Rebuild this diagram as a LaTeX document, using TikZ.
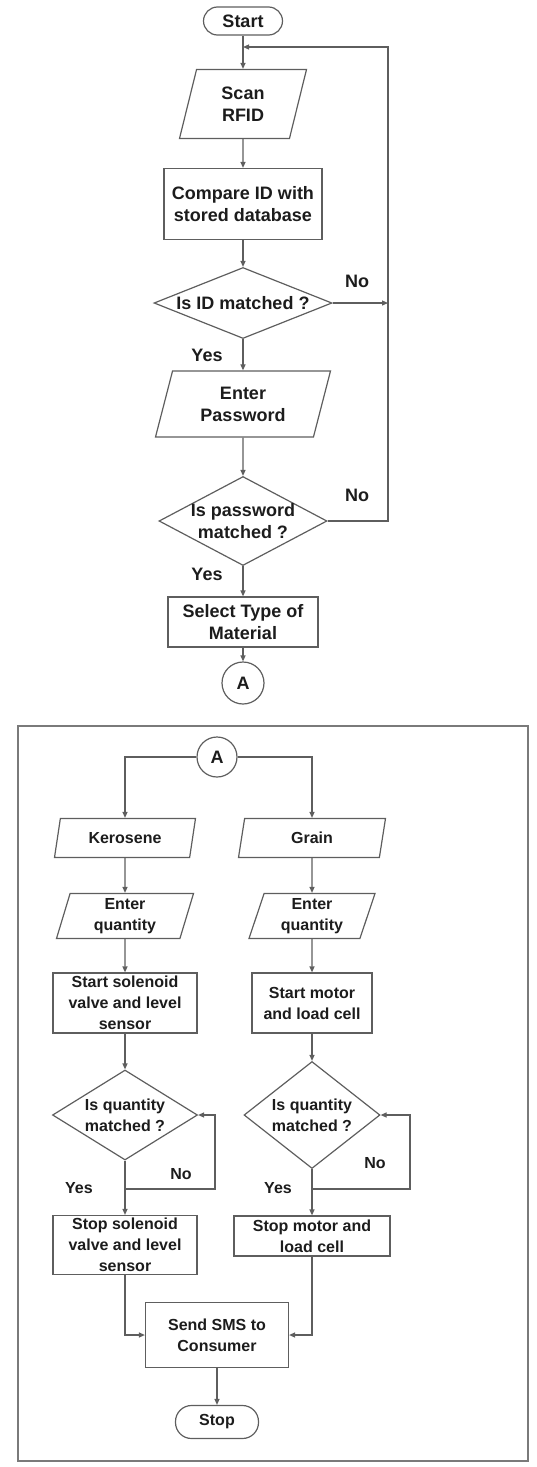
\documentclass[tikz,border=0pt]{standalone}
\usepackage{fontspec}
\setmainfont{Liberation Sans}
\usetikzlibrary{shapes.geometric,arrows.meta}
\definecolor{gris}{HTML}{5E5E5E}
\definecolor{texto}{HTML}{1C1C1C}
\definecolor{marco}{HTML}{7A7A7A}

\begin{document}
\begin{tikzpicture}[
    x=1pt, y=-1pt,
    every node/.style = {text=texto, font=\bfseries\fontsize{18}{22}\selectfont},
    chica/.style  = {font=\bfseries\fontsize{16}{21}\selectfont},
    linea/.style  = {draw=gris, line width=1.2pt},
    flecha/.style = {linea, -{Triangle[length=6pt,width=5pt]}},
    term/.style   = {linea, rectangle, rounded corners=#1, inner sep=1pt},
    caja/.style   = {linea, rectangle, align=center, inner sep=1pt},
    io/.style     = {linea, trapezium, trapezium left angle=66, trapezium right angle=114,
                     trapezium stretches body, align=center, inner sep=1pt},
    deci/.style   = {linea, diamond, inner sep=0pt},
    conn/.style   = {linea, circle, inner sep=0pt},
  ]
  \useasboundingbox (0,0) rectangle (537,1467);

  % Parte superior: identificacion
  \node[term=14pt, minimum width=79pt, minimum height=28pt] (inicio) at (243,21) {Start};
  \coordinate (une) at (243,47);
  \coordinate (der) at (388,47);
  \node[io, trapezium left angle=65, trapezium right angle=115,
        minimum width=127pt, minimum height=69pt] (scan) at (243,104) {Scan\\RFID};
  \node[caja, minimum width=158pt, minimum height=71pt] (comp) at (243,204) {Compare ID with\\stored database};
  \node[deci, minimum width=178pt, minimum height=71pt,
        label={[align=center]center:Is ID matched ?}] (id) at (243,303) {};
  \node[io, trapezium left angle=65, trapezium right angle=115,
        minimum width=175pt, minimum height=66pt] (clave) at (243,404) {Enter\\Password};
  \node[deci, minimum width=168pt, minimum height=89pt,
        label={[align=center]center:Is password\\matched ?}] (pw) at (243,521) {};
  \node[caja, minimum width=150pt, minimum height=50pt] (tipo) at (243,622) {Select Type of\\Material};
  \node[conn, minimum size=42pt] (a1) at (243,683) {A};

  \node (no1) at (357,281) {No};
  \node (si1) at (207,355) {Yes};
  \node (no2) at (357,495) {No};
  \node (si2) at (207,574) {Yes};

  \draw[linea]  (inicio) -- (une);
  \draw[flecha] (une) -- (scan);
  \draw[flecha] (scan) -- (comp);
  \draw[flecha] (comp) -- (id);
  \draw[flecha] (id) -- (clave);
  \draw[flecha] (id.east) -- (id.east -| der);
  \draw[flecha] (clave) -- (pw);
  \draw[flecha] (pw.east) -| (der) -- (une);
  \draw[flecha] (pw) -- (tipo);
  \draw[flecha] (tipo) -- (a1);

  % Parte inferior: despacho
  \draw[draw=marco, line width=2.4pt] (18,726) rectangle (528,1461);
  \node[conn, minimum size=40pt] (a2) at (217,757) {A};
  \node[io, chica, minimum width=141pt, minimum height=39pt] (kero) at (125,838) {Kerosene};
  \node[io, chica, minimum width=147pt, minimum height=39pt] (grano) at (312,838) {Grain};
  \node[io, chica, trapezium left angle=70, trapezium right angle=110,
        minimum width=137pt, minimum height=45pt] (cantk) at (125,916) {Enter\\quantity};
  \node[io, chica, trapezium left angle=68, trapezium right angle=112,
        minimum width=126pt, minimum height=45pt] (cantg) at (312,916) {Enter\\quantity};
  \node[caja, chica, minimum width=144pt, minimum height=60pt] (valv) at (125,1003) {Start solenoid\\valve and level\\sensor};
  \node[caja, chica, minimum width=120pt, minimum height=60pt] (motor) at (312,1003) {Start motor\\and load cell};
  \node[deci, minimum width=145pt, minimum height=90pt,
        label={[chica, align=center]center:Is quantity\\matched ?}] (qk) at (125,1115) {};
  \node[deci, minimum width=136pt, minimum height=107pt,
        label={[chica, align=center]center:Is  quantity\\matched ?}] (qg) at (312,1115) {};
  \coordinate (vk) at (215,1189);
  \coordinate (vg) at (410,1189);
  \node[caja, chica, minimum width=144pt, minimum height=59pt] (valv2) at (125,1245) {Stop solenoid\\valve and level\\sensor};
  \node[caja, chica, minimum width=156pt, minimum height=40pt] (motor2) at (312,1236) {Stop motor and\\load cell};
  \node[caja, chica, minimum width=143pt, minimum height=65pt] (sms) at (217,1335) {Send SMS to\\Consumer};
  \node[term=16pt, chica, minimum width=83pt, minimum height=33pt] (fin) at (217,1422) {Stop};

  \node[chica] (nok) at (181,1174) {No};
  \node[chica] (sik) at (79,1188) {Yes};
  \node[chica] (nog) at (375,1163) {No};
  \node[chica] (sig) at (278,1188) {Yes};

  \draw[flecha] (a2.west) -| (kero);
  \draw[flecha] (a2.east) -| (grano);
  \draw[flecha] (kero) -- (cantk);
  \draw[flecha] (grano) -- (cantg);
  \draw[flecha] (cantk) -- (valv);
  \draw[flecha] (cantg) -- (motor);
  \draw[flecha] (valv) -- (qk);
  \draw[flecha] (motor) -- (qg);
  \draw[flecha] (qk) -- (valv2);
  \draw[flecha] (qg) -- (motor2);
  \draw[flecha] (qk.south |- vk) -- (vk) |- (qk.east);
  \draw[flecha] (qg.south |- vg) -- (vg) |- (qg.east);
  \draw[linea, line width=2pt] (vg) -- (vg |- qg.east);
  \draw[flecha] (valv2) |- (sms);
  \draw[flecha] (motor2) |- (sms);
  \draw[flecha] (sms) -- (fin);
\end{tikzpicture}
\end{document}
